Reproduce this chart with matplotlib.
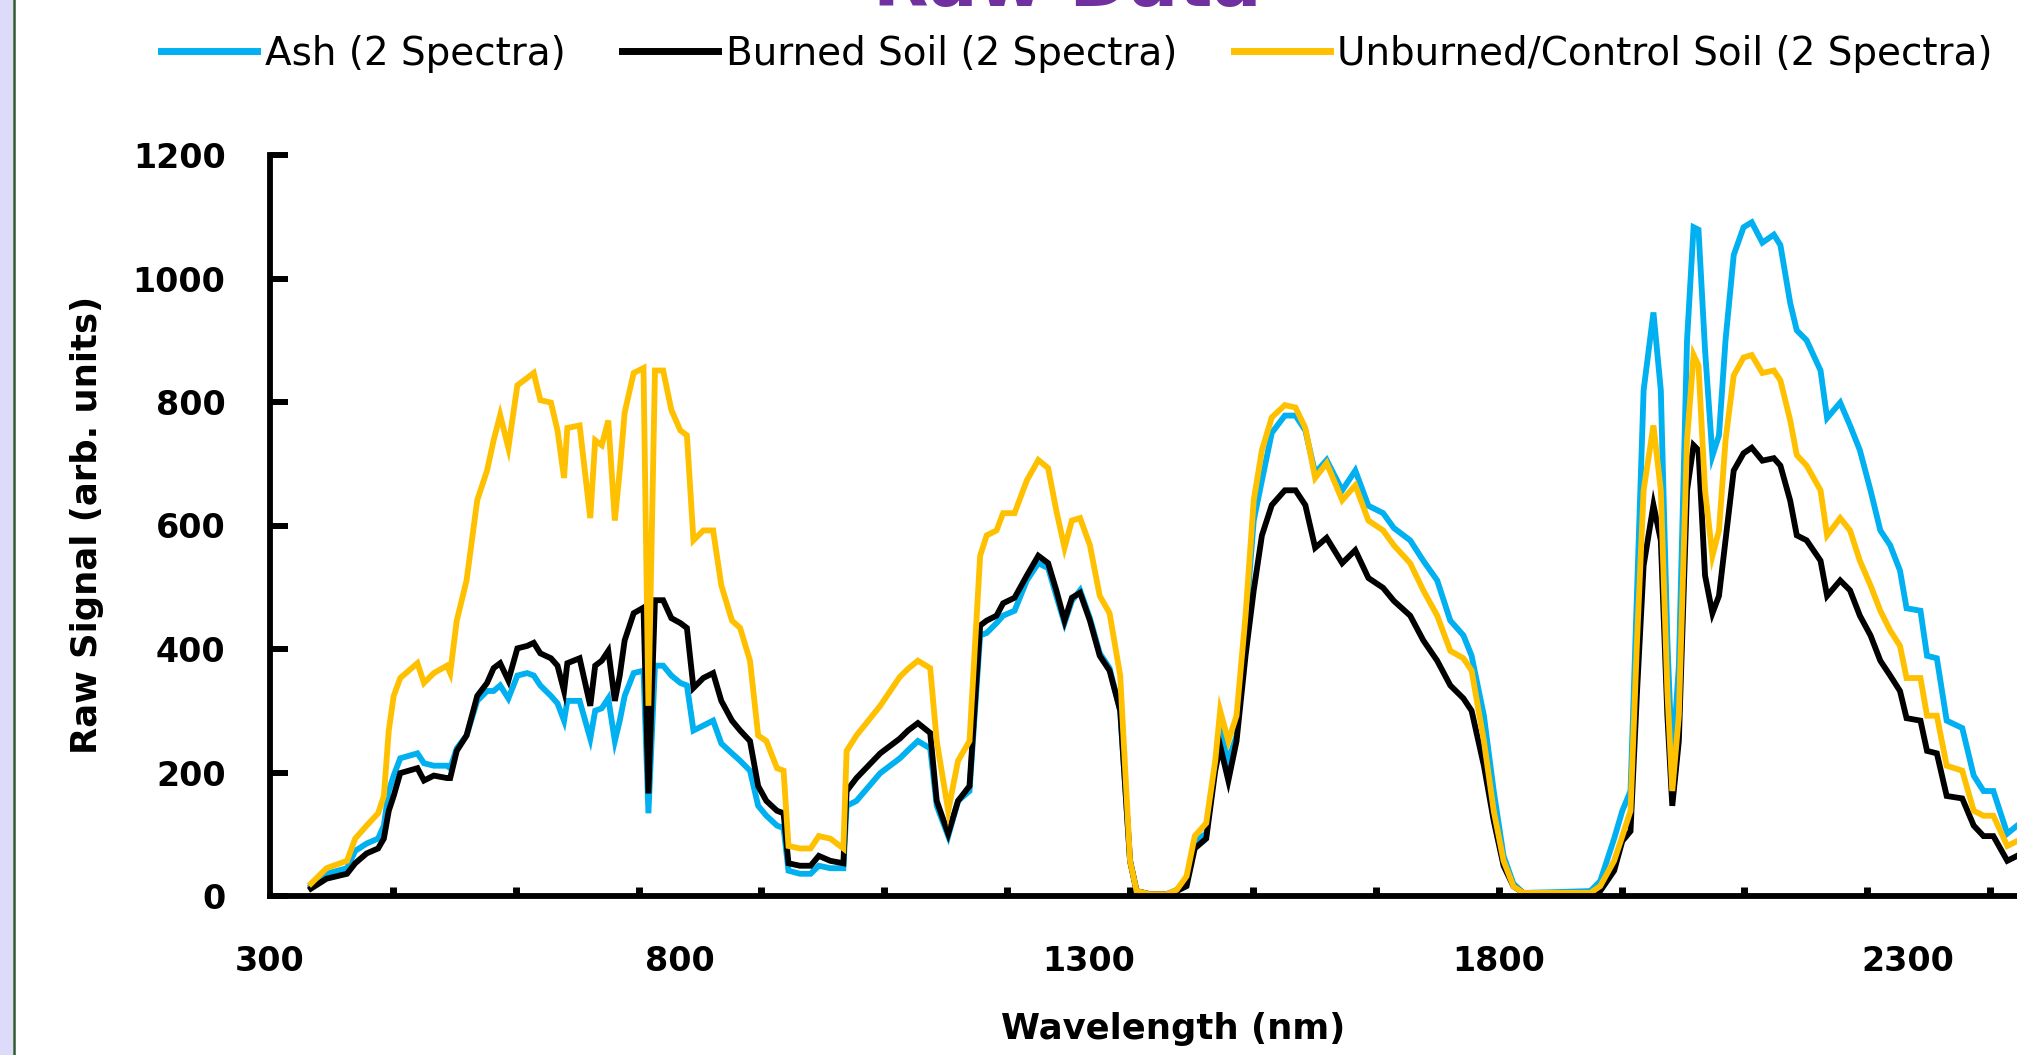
import numpy as np
import matplotlib
matplotlib.use("Agg")
import matplotlib.pyplot as plt
from matplotlib.lines import Line2D
from matplotlib.patches import Rectangle
from matplotlib.ticker import FixedLocator, NullFormatter

plt.rcParams['font.family'] = ['DejaVu Sans']

# wavelength grid (nm) and the three mean raw spectra
wavelength = [350, 369, 394, 404, 418, 432, 439, 445, 451, 459, 480, 488, 500, 516, 520,
              528, 540, 553, 565, 573, 581, 591, 602, 614, 622, 630, 643, 651, 659, 663,
              678, 691, 697, 705, 713, 721, 727, 733, 744, 756, 762, 770, 780, 790, 801,
              809, 817, 829, 841, 851, 864, 874, 886, 896, 906, 919, 927, 933, 947, 960,
              970, 984, 1000, 1004, 1016, 1045, 1069, 1079, 1091, 1106, 1114, 1128, 1140, 1154, 1167,
              1175, 1187, 1195, 1209, 1224, 1238, 1250, 1260, 1270, 1279, 1289, 1301, 1313, 1325, 1338,
              1350, 1358, 1374, 1395, 1407, 1419, 1429, 1443, 1454, 1460, 1470, 1480, 1491, 1501, 1511,
              1523, 1539, 1552, 1564, 1576, 1590, 1609, 1625, 1641, 1659, 1672, 1692, 1708, 1725, 1741,
              1757, 1767, 1782, 1794, 1806, 1818, 1830, 1863, 1912, 1924, 1941, 1951, 1961, 1969, 1977,
              1989, 1998, 2006, 2012, 2020, 2030, 2038, 2044, 2052, 2061, 2069, 2077, 2087, 2099, 2109,
              2122, 2136, 2144, 2156, 2164, 2176, 2193, 2201, 2217, 2229, 2241, 2254, 2266, 2278, 2290,
              2298, 2315, 2323, 2335, 2347, 2366, 2380, 2392, 2404, 2421, 2433, 2445]

ash = [16, 36, 45, 73, 85, 93, 114, 170, 195, 223, 231, 215, 211, 211, 207,
       239, 260, 316, 332, 332, 341, 320, 357, 361, 357, 341, 324, 312, 284, 316,
       316, 255, 300, 304, 320, 251, 284, 324, 361, 365, 134, 373, 373, 357, 345,
       341, 268, 276, 284, 247, 231, 219, 203, 146, 130, 114, 110, 41, 36, 36,
       49, 45, 45, 146, 154, 199, 223, 236, 251, 239, 146, 97, 154, 170, 422,
       426, 442, 454, 462, 511, 539, 531, 486, 442, 478, 495, 450, 393, 369, 300,
       57, 8, 3, 3, 10, 24, 89, 101, 211, 268, 219, 259, 438, 608, 673,
       750, 778, 778, 754, 685, 706, 657, 689, 632, 620, 596, 576, 543, 511, 446,
       422, 389, 292, 170, 65, 20, 5, 6, 8, 24, 93, 138, 170, 495, 819,
       945, 819, 414, 211, 373, 900, 1083, 1079, 884, 713, 746, 900, 1038, 1083, 1091,
       1058, 1071, 1054, 960, 916, 900, 851, 774, 799, 762, 722, 657, 592, 568, 527,
       466, 462, 389, 385, 284, 272, 195, 170, 170, 101, 114, 108]

burned = [12, 28, 36, 53, 69, 77, 93, 138, 162, 199, 207, 187, 195, 191, 191,
          235, 260, 324, 345, 369, 377, 349, 401, 405, 410, 393, 385, 373, 332, 377,
          385, 308, 373, 381, 397, 316, 357, 414, 458, 467, 166, 479, 479, 450, 442,
          434, 337, 353, 361, 316, 284, 268, 251, 178, 154, 138, 134, 53, 49, 49,
          65, 57, 53, 170, 191, 231, 255, 268, 280, 264, 154, 101, 154, 178, 438,
          446, 454, 474, 483, 519, 551, 539, 495, 446, 483, 491, 446, 389, 365, 300,
          57, 8, 3, 3, 8, 16, 77, 93, 203, 243, 187, 251, 389, 495, 584,
          633, 657, 657, 633, 564, 580, 539, 560, 515, 499, 478, 454, 414, 381, 341,
          320, 300, 211, 122, 49, 16, 5, 5, 5, 8, 41, 89, 105, 332, 535,
          633, 576, 292, 146, 251, 657, 730, 722, 519, 458, 486, 576, 689, 717, 726,
          705, 709, 697, 640, 584, 576, 543, 486, 511, 495, 454, 422, 381, 357, 332,
          288, 284, 235, 231, 162, 158, 114, 97, 97, 57, 65, 60]

unburned = [20, 45, 57, 93, 114, 134, 162, 268, 324, 353, 377, 345, 361, 373, 361,
            446, 511, 641, 689, 738, 779, 726, 827, 839, 847, 803, 799, 754, 677, 758,
            762, 612, 738, 730, 770, 608, 689, 783, 847, 855, 308, 851, 851, 787, 754,
            746, 576, 592, 592, 503, 446, 434, 381, 260, 251, 207, 203, 81, 77, 77,
            97, 93, 77, 235, 260, 308, 355, 368, 381, 369, 251, 138, 219, 251, 551,
            584, 592, 620, 620, 673, 706, 693, 624, 564, 608, 612, 568, 486, 458, 357,
            57, 8, 3, 3, 10, 32, 97, 118, 219, 300, 251, 292, 454, 641, 722,
            775, 795, 791, 758, 677, 701, 641, 665, 608, 592, 568, 539, 495, 454, 397,
            385, 365, 251, 138, 57, 16, 5, 5, 5, 16, 57, 97, 138, 414, 657,
            762, 657, 332, 170, 292, 738, 876, 859, 657, 551, 592, 738, 843, 872, 876,
            847, 851, 835, 770, 714, 697, 657, 584, 612, 592, 543, 503, 462, 430, 405,
            353, 353, 292, 292, 211, 203, 138, 130, 130, 81, 89, 85]

series = [
    ("Ash (2 Spectra)", ash, "#00B0F0"),
    ("Burned Soil (2 Spectra)", burned, "#000000"),
    ("Unburned/Control Soil (2 Spectra)", unburned, "#FFC000"),
]

W, H = 2017, 1055
fig = plt.figure(figsize=(W / 100, H / 100), dpi=100)

# left page border strip
fig.patches.append(Rectangle((0, 0), 12.5 / W, 1, transform=fig.transFigure,
                             facecolor="#dcdcfa", edgecolor="none", zorder=0))
fig.add_artist(Line2D([14 / W, 14 / W], [0, 1], transform=fig.transFigure,
                      color="#2f5a2f", lw=1.8))

ax = fig.add_axes([270 / W, 1 - 896 / H, (2072 - 270) / W, (896 - 155) / H])

for name, vals, col in series:
    ax.plot(wavelength, vals, color=col, lw=4.2, label=name, solid_joinstyle="miter")

ax.set_xlim(300, 2500)
ax.set_ylim(0, 1200)

for s in ["top", "right"]:
    ax.spines[s].set_visible(False)
for s in ["left", "bottom"]:
    ax.spines[s].set_linewidth(4.2)
    ax.spines[s].set_capstyle("projecting")

ax.set_yticks(np.arange(0, 1201, 200))
ax.tick_params(axis="y", direction="in", length=13, width=4.3, pad=32,
               labelsize=24)
for lab in ax.get_yticklabels():
    lab.set_fontweight("bold")

ax.xaxis.remove_overlapping_locs = False
ax.xaxis.set_major_locator(FixedLocator([300, 800, 1300, 1800, 2300]))
ax.xaxis.set_minor_locator(FixedLocator(np.arange(450, 2500, 150)))
ax.xaxis.set_minor_formatter(NullFormatter())
ax.tick_params(axis="x", which="major", direction="in", length=0, pad=35,
               labelsize=24)
ax.tick_params(axis="x", which="minor", direction="in", length=6.5, width=5)
for lab in ax.get_xticklabels():
    lab.set_fontweight("bold")

handles = [Line2D([], [], color=col, lw=5) for _, _, col in series]
labels = [name for name, _, _ in series]
fig.legend(handles, labels, ncol=3, loc="center left",
           bbox_to_anchor=(161 / W, 1 - 54 / H), frameon=False,
           borderpad=0, borderaxespad=0, handlelength=2.47,
           handletextpad=0.2, columnspacing=1.45, fontsize=28)

fig.text(87 / W, 1 - 525 / H, "Raw Signal (arb. units)", rotation=90,
         ha="center", va="center", fontsize=25.5, fontweight="bold")
fig.text(1173 / W, 1 - 1029 / H, "Wavelength (nm)", ha="center", va="center",
         fontsize=25.5, fontweight="bold")
fig.text(1067 / W, 1 - 6 / H, "Raw Data", ha="center", va="baseline",
         color="#7030A0", fontweight="bold", fontsize=52)

fig.savefig("out.png", dpi=100, facecolor="white")
